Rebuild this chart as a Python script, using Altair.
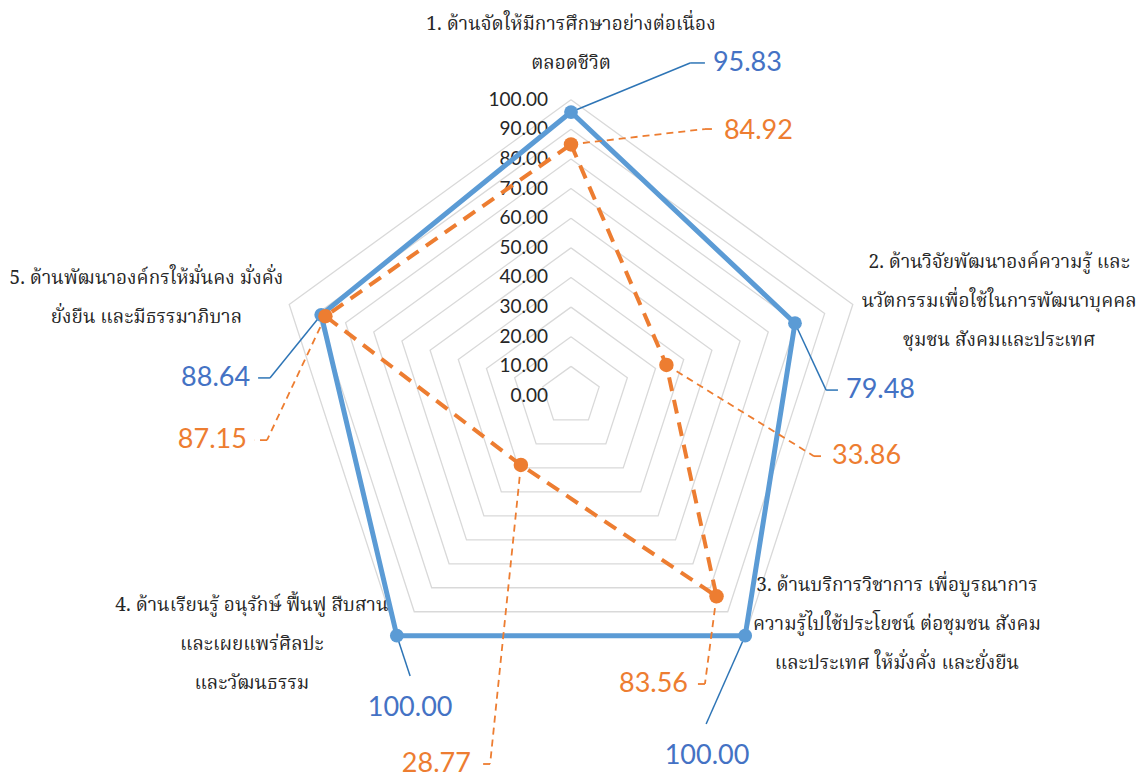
import altair as alt
import pandas as pd

# ---------------- data ----------------
categories = [
    "1. ด้านจัดให้มีการศึกษาอย่างต่อเนื่อง\nตลอดชีวิต",
    "2. ด้านวิจัยพัฒนาองค์ความรู้ และ\nนวัตกรรมเพื่อใช้ในการพัฒนาบุคคล\nชุมชน สังคมและประเทศ",
    "3. ด้านบริการวิชาการ เพื่อบูรณาการ\nความรู้ไปใช้ประโยชน์ ต่อชุมชน สังคม\nและประเทศ ให้มั่งคั่ง และยั่งยืน",
    "4. ด้านเรียนรู้ อนุรักษ์ ฟื้นฟู สืบสาน\nและเผยแพร่ศิลปะ\nและวัฒนธรรม",
    "5. ด้านพัฒนาองค์กรให้มั่นคง มั่งคั่ง\nยั่งยืน และมีธรรมาภิบาล",
]
series_a = [95.83, 79.48, 100.00, 100.00, 88.64]
series_b = [84.92, 33.86, 83.56, 28.77, 87.15]
tick_values = [0, 10, 20, 30, 40, 50, 60, 70, 80, 90, 100]
tick_labels = ["0.00", "10.00", "20.00", "30.00", "40.00", "50.00",
               "60.00", "70.00", "80.00", "90.00", "100.00"]

# ---------------- layout (data units of the radial scale) ----------------
# category label first-line centres
cat_label_xy = [(0.0, 125.6), (144.5, 45.2), (110.0, -63.8), (-107.7, -70.5), (-143.3, 39.8)]
# value-label leader geometry: elbow x/y, end x/y, text x/y, text align
lead_a = [
    (40.2, 112.4, 45.2, 112.4, 47.9, 112.4, "left"),
    (86.1, 2.0, 90.1, 2.0, 92.8, 2.0, "left"),
    (45.6, -110.7, 45.6, -110.7, 45.9, -121.5, "center"),
    (-54.3, -94.5, -54.3, -94.5, -54.3, -105.3, "center"),
    (-101.6, 6.1, -105.6, 6.1, -108.3, 6.1, "right"),
]
lead_b = [
    (45.2, 90.1, 48.9, 90.1, 51.6, 89.4, "left"),
    (82.0, -20.3, 84.7, -20.3, 88.1, -20.3, "left"),
    (45.2, -97.2, 42.5, -97.2, 39.5, -97.2, "right"),
    (-27.3, -124.2, -30.7, -124.2, -33.8, -124.2, "right"),
    (-102.6, -14.9, -106.7, -14.9, -109.4, -14.9, "right"),
]

K = 2.963            # px per unit
CX, CY = 571, 396    # centre in page pixels
W, H = 1129, 768
x_dom = [-(CX - 8) / K, -(CX - 8) / K + W / K]
y_dom = [(CY - 8) / K - H / K, (CY - 8) / K]

BLUE_LINE = "#5B9BD5"
BLUE_TEXT = "#4472C4"
BLUE_LEAD = "#2E75B6"
ORANGE = "#ED7D31"
GRID = "#D9D9D9"
TXT = "#262626"
NUM_FONT = "Lato"
THAI_FONT = "Noto Serif Thai, Noto Sans Thai, Loma, Garuda, sans-serif"

X = alt.X("px:Q", scale=alt.Scale(domain=x_dom, nice=False, zero=False), axis=None)
Y = alt.Y("py:Q", scale=alt.Scale(domain=y_dom, nice=False, zero=False), axis=None)
xs = alt.Scale(domain=x_dom, nice=False, zero=False)
ys = alt.Scale(domain=y_dom, nice=False, zero=False)

ANG = "datum.i * 2 * PI / 5"
PX = f"datum.v * sin({ANG})"
PY = f"datum.v * cos({ANG})"

# ---------------- grid ----------------
grid_df = pd.DataFrame([{"v": lv, "i": k} for lv in tick_values[1:] for k in range(6)])
grid = alt.Chart(grid_df).transform_calculate(px=PX, py=PY).mark_line(
    color=GRID, strokeWidth=1.3
).encode(x=X, y=Y, detail="v:N", order="i:Q")

# ---------------- tick labels ----------------
tick_df = pd.DataFrame({"v": tick_values, "lab": tick_labels, "i": 0})
ticks = alt.Chart(tick_df).transform_calculate(px=PX, py=PY).mark_text(
    align="right", baseline="middle", dx=-23, font=NUM_FONT, fontSize=19, color=TXT
).encode(x=X, y=Y, text="lab:N")


def series_layers(vals, leads, line_kw, pt_color, pt_size, lead_color, lead_dash, text_color):
    line_df = pd.DataFrame([{"i": k, "v": vals[k % 5]} for k in range(6)])
    line = alt.Chart(line_df).transform_calculate(px=PX, py=PY).mark_line(**line_kw).encode(
        x=X, y=Y, order="i:Q")
    pt_df = pd.DataFrame({"i": list(range(5)), "v": vals})
    pts = alt.Chart(pt_df).transform_calculate(px=PX, py=PY).mark_point(
        filled=True, opacity=1, color=pt_color, size=pt_size, shape="circle"
    ).encode(x=X, y=Y)
    lab_df = pd.DataFrame([
        {"i": k, "v": vals[k], "ex": L[0], "ey": L[1], "tx": L[2], "ty": L[3],
         "lx": L[4], "ly": L[5], "al": L[6]} for k, L in enumerate(leads)
    ])
    base = alt.Chart(lab_df).transform_calculate(px=PX, py=PY, lab="format(datum.v, '.2f')")
    rule_kw = dict(color=lead_color, strokeWidth=1.5)
    if lead_dash:
        rule_kw["strokeDash"] = lead_dash
        rule_kw["strokeWidth"] = 1.8
    r1 = base.mark_rule(**rule_kw).encode(
        x=X, y=Y, x2="ex:Q", y2="ey:Q")
    r2 = base.mark_rule(**rule_kw).encode(
        x=alt.X("ex:Q", scale=xs, axis=None), y=alt.Y("ey:Q", scale=ys, axis=None),
        x2="tx:Q", y2="ty:Q")
    texts = []
    for al in ["left", "right", "center"]:
        texts.append(base.transform_filter(f"datum.al == '{al}'").mark_text(
            align=al, baseline="middle", font=NUM_FONT, fontSize=27, color=text_color
        ).encode(x=alt.X("lx:Q", scale=xs, axis=None), y=alt.Y("ly:Q", scale=ys, axis=None),
                 text="lab:N"))
    return [r1, r2, line, pts] + texts


layers_a = series_layers(series_a, lead_a,
                         dict(color=BLUE_LINE, strokeWidth=5, strokeJoin="round"),
                         BLUE_LINE, 190, BLUE_LEAD, None, BLUE_TEXT)
layers_b = series_layers(series_b, lead_b,
                         dict(color=ORANGE, strokeWidth=4, strokeDash=[14, 9]),
                         ORANGE, 210, ORANGE, [7, 5], ORANGE)

# ---------------- category labels ----------------
cat_df = pd.DataFrame({"name": categories,
                       "cx": [p[0] for p in cat_label_xy],
                       "cy": [p[1] for p in cat_label_xy]})
cats = alt.Chart(cat_df).mark_text(
    align="center", baseline="middle", lineBreak="\n", lineHeight=39,
    font=THAI_FONT, fontSize=19, color=TXT
).encode(x=alt.X("cx:Q", scale=xs, axis=None), y=alt.Y("cy:Q", scale=ys, axis=None),
         text="name:N")

chart = alt.layer(grid, ticks, *layers_a, *layers_b, cats).properties(
    width=W, height=H,
    autosize=alt.AutoSizeParams(type="none"),
    padding=0,
    background="white",
).configure_view(stroke=None)

chart.save("out.html", embed_options={"renderer": "svg", "actions": False})
